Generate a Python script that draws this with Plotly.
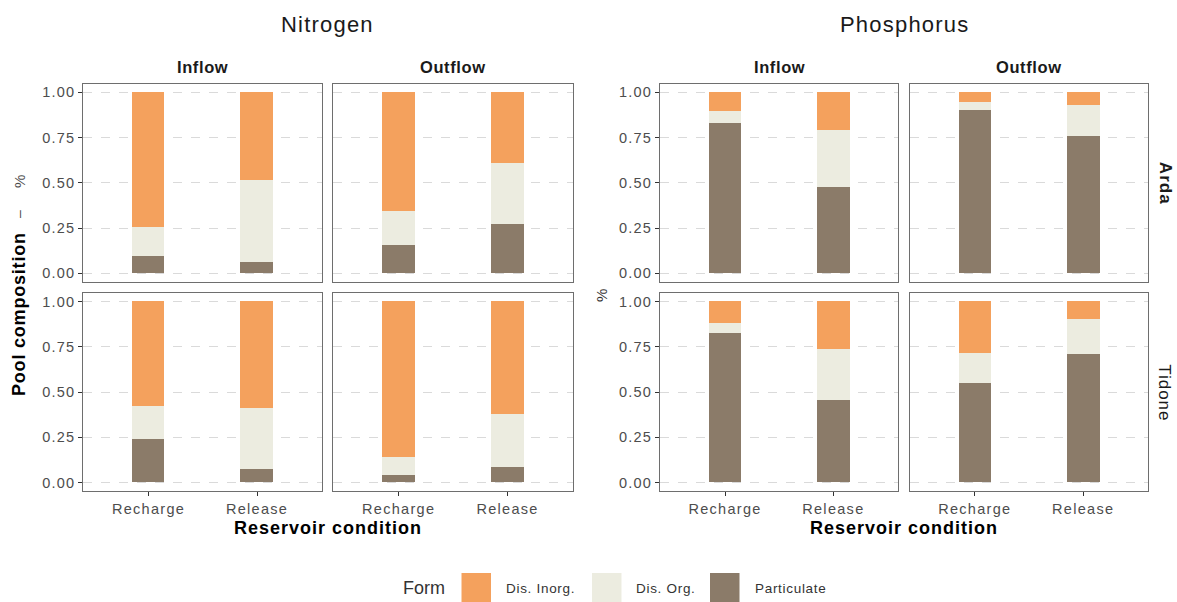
import plotly.graph_objects as go

# ---- data: fraction of each form in the nutrient pool ----
elements = ["Nitrogen", "Phosphorus"]
flows = ["Inflow", "Outflow"]
rivers = ["Arda", "Tidone"]
conditions = ["Recharge", "Release"]
forms = ["Dis. Inorg.", "Dis. Org.", "Particulate"]

# values per (river, element, flow): [Recharge, Release]
particulate = {
    ("Arda", "Nitrogen", "Inflow"): [0.095, 0.061],
    ("Arda", "Nitrogen", "Outflow"): [0.156, 0.271],
    ("Arda", "Phosphorus", "Inflow"): [0.829, 0.479],
    ("Arda", "Phosphorus", "Outflow"): [0.900, 0.759],
    ("Tidone", "Nitrogen", "Inflow"): [0.240, 0.074],
    ("Tidone", "Nitrogen", "Outflow"): [0.041, 0.083],
    ("Tidone", "Phosphorus", "Inflow"): [0.826, 0.455],
    ("Tidone", "Phosphorus", "Outflow"): [0.551, 0.710],
}
dis_org = {
    ("Arda", "Nitrogen", "Inflow"): [0.162, 0.453],
    ("Arda", "Nitrogen", "Outflow"): [0.188, 0.337],
    ("Arda", "Phosphorus", "Inflow"): [0.068, 0.313],
    ("Arda", "Phosphorus", "Outflow"): [0.045, 0.169],
    ("Tidone", "Nitrogen", "Inflow"): [0.181, 0.338],
    ("Tidone", "Nitrogen", "Outflow"): [0.098, 0.292],
    ("Tidone", "Phosphorus", "Inflow"): [0.054, 0.283],
    ("Tidone", "Phosphorus", "Outflow"): [0.164, 0.194],
}
dis_inorg = {
    ("Arda", "Nitrogen", "Inflow"): [0.743, 0.486],
    ("Arda", "Nitrogen", "Outflow"): [0.656, 0.392],
    ("Arda", "Phosphorus", "Inflow"): [0.103, 0.208],
    ("Arda", "Phosphorus", "Outflow"): [0.055, 0.072],
    ("Tidone", "Nitrogen", "Inflow"): [0.579, 0.588],
    ("Tidone", "Nitrogen", "Outflow"): [0.861, 0.625],
    ("Tidone", "Phosphorus", "Inflow"): [0.120, 0.262],
    ("Tidone", "Phosphorus", "Outflow"): [0.285, 0.096],
}
y_ticks = [0, 0.25, 0.5, 0.75, 1.0]
y_tick_labels = ["0.00", "0.25", "0.50", "0.75", "1.00"]

colors = {"Dis. Inorg.": "#F4A15D", "Dis. Org.": "#ECECE0", "Particulate": "#8B7B69"}

# ---- layout geometry (pixels) ----
W, H = 1177, 602
FONT = "Liberation Sans, Arial, sans-serif"
col_px = {
    ("Nitrogen", "Inflow"): (83.4, 322.2),
    ("Nitrogen", "Outflow"): (333.3, 572.9),
    ("Phosphorus", "Inflow"): (660.0, 898.4),
    ("Phosphorus", "Outflow"): (909.8, 1148.2),
}
row_px = {"Arda": (84.0, 281.7), "Tidone": (293.3, 491.0)}


def px_x(x):
    return x / W


def px_y(y):
    return 1 - y / H


def spaced(s, sp=1):
    return f"<span style='letter-spacing:{sp}px'>{s}</span>"


fig = go.Figure()
layout = {}
n = 0
for river in rivers:
    for element in elements:
        for flow in flows:
            n += 1
            key = (river, element, flow)
            xs = "x" if n == 1 else f"x{n}"
            ys = "y" if n == 1 else f"y{n}"
            for form, src in [("Particulate", particulate), ("Dis. Org.", dis_org),
                              ("Dis. Inorg.", dis_inorg)]:
                fig.add_trace(go.Bar(
                    x=conditions, y=src[key], name=form, width=0.3,
                    marker=dict(color=colors[form], line=dict(width=0)),
                    xaxis=xs, yaxis=ys, showlegend=False,
                ))
            x0, x1 = col_px[(element, flow)]
            y0, y1 = row_px[river]
            first_col = flow == "Inflow"
            bottom = river == "Tidone"
            layout["xaxis" if n == 1 else f"xaxis{n}"] = dict(
                domain=[px_x(x0), px_x(x1)], anchor=ys,
                type="category", range=[-0.6, 1.6],
                showline=True, mirror=True, linecolor="#6E6E6E", linewidth=1.2,
                showgrid=False, zeroline=False,
                ticks="outside" if bottom else "", ticklen=4, tickcolor="#333333",
                showticklabels=bottom,
                tickvals=conditions, ticktext=[spaced(c, 1.3) for c in conditions],
                tickfont=dict(family=FONT, size=14.5, color="#4D4D4D"),
            )
            layout["yaxis" if n == 1 else f"yaxis{n}"] = dict(
                domain=[px_y(y1), px_y(y0)], anchor=xs,
                range=[-0.046, 1.046],
                showline=True, mirror=True, linecolor="#6E6E6E", linewidth=1.2,
                showgrid=True, gridcolor="#DADADA", griddash="dash", gridwidth=1,
                zeroline=False,
                tickvals=y_ticks, ticktext=[spaced(t, 1.2) for t in y_tick_labels],
                ticks="outside" if first_col else "", ticklen=4, tickcolor="#333333",
                showticklabels=first_col,
                tickfont=dict(family=FONT, size=14.5, color="#4D4D4D"),
            )

annotations = []


def label(text, x, y, size, color="#1A1A1A", angle=0, xanchor="center", bold=False):
    annotations.append(dict(
        text=f"<b>{text}</b>" if bold else text,
        x=px_x(x), y=px_y(y), xref="paper", yref="paper",
        xanchor=xanchor, yanchor="middle", showarrow=False, textangle=angle,
        font=dict(family=FONT, size=size, color=color),
    ))


# element titles
label(spaced("Nitrogen", 1.2), 327, 25, 22)
label(spaced("Phosphorus", 1.2), 904, 25, 22)
# facet strips
for (element, flow), (x0, x1) in col_px.items():
    label(spaced(flow, 0.6), (x0 + x1) / 2, 67, 16.5, bold=True)
label(spaced("Arda", 1), 1165, sum(row_px["Arda"]) / 2, 17, angle=90, bold=True)
label(spaced("Tidone", 1), 1165, sum(row_px["Tidone"]) / 2, 17, angle=90)
# axis titles
label(spaced("Reservoir condition", 1), 328, 528, 18, color="#000000", bold=True)
label(spaced("Reservoir condition", 1), 904, 528, 18, color="#000000", bold=True)
label(spaced("Pool composition", 0.8), 19, 314, 18, color="#000000", angle=-90, bold=True)
label("–", 19, 214, 14, color="#4D4D4D", angle=-90)
label("%", 19, 182, 15, color="#4D4D4D", angle=-90)
label("%", 601, 296, 15, color="#333333", angle=-90)

# legend
shapes = []
label("Form", 401, 588, 18, color="#333333", xanchor="left")
legend_pos = [(461.5, 504, "Dis. Inorg."), (592, 634, "Dis. Org."), (710, 753, "Particulate")]
for kx, tx, form in legend_pos:
    shapes.append(dict(type="rect", xref="paper", yref="paper",
                       x0=px_x(kx), x1=px_x(kx + 29.5), y0=px_y(602), y1=px_y(573),
                       fillcolor=colors[form], line=dict(width=0)))
    label(spaced(form, 0.7), tx, 588, 13.5, color="#333333", xanchor="left")

fig.update_layout(
    width=W, height=H, margin=dict(l=0, r=0, t=0, b=0),
    paper_bgcolor="white", plot_bgcolor="white",
    barmode="stack", bargap=0, font=dict(family=FONT),
    annotations=annotations, shapes=shapes,
    **layout,
)
fig.write_html("out.html")
